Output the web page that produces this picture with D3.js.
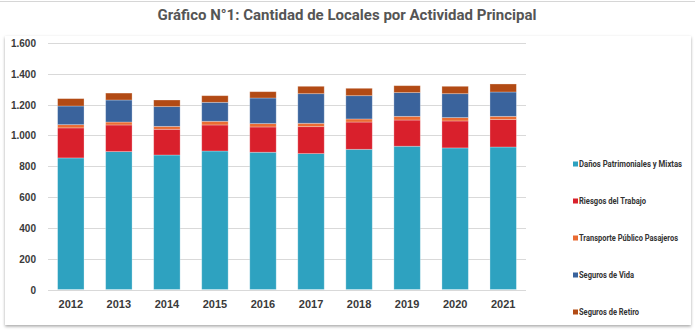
<!DOCTYPE html>
<html>
<head>
<meta charset="utf-8">
<script src="https://cdn.jsdelivr.net/npm/d3@7"></script>
<style>
  body { margin: 0; background: #fff; }
  svg { display: block; font-family: Roboto, "Noto Sans", sans-serif; }
  .axis text { font-weight: 700; fill: #3a3a3a; }
  .axis path { display: none; }
  .grid line { stroke: #d9d9d9; stroke-width: 1; }
</style>
</head>
<body>
<script>
//Years and series (number of premises by main activity)
var years = ["2012","2013","2014","2015","2016","2017","2018","2019","2020","2021"];
var seriesNames = ["Daños Patrimoniales y Mixtas","Riesgos del Trabajo","Transporte Público Pasajeros","Seguros de Vida","Seguros de Retiro"];
var danos      = [854, 895, 873, 899, 891, 882, 910, 930, 919, 925];
var riesgos    = [195, 173, 167, 169, 164, 175, 177, 170, 175, 178];
var transporte = [21, 19, 19, 24, 22, 22, 20, 24, 22, 21];
var vida       = [121, 143, 128, 123, 166, 192, 151, 154, 155, 158];
var retiro     = [48, 45, 43, 43, 41, 48, 48, 45, 48, 52];
var yTicks = [0, 200, 400, 600, 800, 1000, 1200, 1400, 1600];
var colors = ["#2ea2c0", "#d9202c", "#ea6b32", "#3a639c", "#b24a14"];

var width = 695, height = 330;
var plotLeft = 48, plotRight = 526, plotTop = 43, plotBottom = 289.5;

var svg = d3.select("body").append("svg")
    .attr("width", width)
    .attr("height", height);

//Card background with soft shadow
var defs = svg.append("defs");
var shadow = defs.append("filter").attr("id", "shadow")
    .attr("x", "-5%").attr("y", "-5%").attr("width", "110%").attr("height", "110%");
shadow.append("feDropShadow")
    .attr("dx", 0).attr("dy", 1.5)
    .attr("stdDeviation", 1.5)
    .attr("flood-color", "#000")
    .attr("flood-opacity", 0.35);

svg.append("line")
    .attr("x1", 0).attr("x2", width)
    .attr("y1", 1.5).attr("y2", 1.5)
    .attr("stroke", "#d6d6d6");

svg.append("rect")
    .attr("x", 5).attr("y", 36)
    .attr("width", 686).attr("height", 289)
    .attr("fill", "#fff")
    .attr("filter", "url(#shadow)");

//Title
svg.append("text")
    .attr("x", 347).attr("y", 19.5)
    .attr("text-anchor", "middle")
    .attr("font-size", 14)
    .attr("font-weight", 700)
    .attr("fill", "#555")
    .attr("textLength", 379)
    .attr("lengthAdjust", "spacingAndGlyphs")
    .text("Gráfico N°1: Cantidad de Locales por Actividad Principal");

//Scales
var x = d3.scaleBand()
    .domain(years)
    .range([plotLeft, plotRight])
    .paddingInner(0.45)
    .paddingOuter(0.2);

var y = d3.scaleLinear()
    .domain([0, 1600])
    .range([plotBottom, plotTop]);

//Gridlines
svg.append("g")
    .attr("class", "grid")
    .selectAll("line")
    .data(yTicks)
    .enter()
    .append("line")
    .attr("x1", plotLeft).attr("x2", plotRight)
    .attr("y1", function(d){ return Math.round(y(d)) + 0.5; })
    .attr("y2", function(d){ return Math.round(y(d)) + 0.5; });

//Stack the series
var table = years.map(function(yr, i){
    return { year: yr, s0: danos[i], s1: riesgos[i], s2: transporte[i], s3: vida[i], s4: retiro[i] };
});
var stack = d3.stack().keys(["s0","s1","s2","s3","s4"]);
var layers = stack(table);

var groups = svg.selectAll(".layer")
    .data(layers)
    .enter()
    .append("g")
    .attr("class", "layer")
    .attr("fill", function(d, i){ return colors[i]; });

groups.selectAll("rect")
    .data(function(d){ return d; })
    .enter()
    .append("rect")
    .attr("x", function(d){ return x(d.data.year); })
    .attr("width", x.bandwidth())
    .attr("y", function(d){ return y(d[1]); })
    .attr("height", function(d){ return y(d[0]) - y(d[1]); })
    .attr("stroke", "#ffffff")
    .attr("stroke-opacity", 0.35)
    .attr("stroke-width", 0.8);

//Axes
var yAxis = d3.axisLeft(y)
    .tickValues(yTicks)
    .tickSize(0)
    .tickPadding(0)
    .tickFormat(function(d){ return d3.format(",")(d).replace(",", "."); });

svg.append("g")
    .attr("class", "axis")
    .attr("transform", "translate(36,0)")
    .call(yAxis)
    .selectAll("text")
    .attr("font-size", 10)
    .attr("dy", "0.35em");

var xAxis = d3.axisBottom(x).tickSize(0).tickPadding(0);

svg.append("g")
    .attr("class", "axis")
    .attr("transform", "translate(0,300)")
    .call(xAxis)
    .selectAll("text")
    .attr("font-size", 11)
    .attr("dy", "0.71em");

//Legend
var legendWidths = [103, 67, 99, 55, 60];
var legend = svg.selectAll(".legend")
    .data(seriesNames)
    .enter()
    .append("g")
    .attr("class", "legend")
    .attr("transform", function(d, i){ return "translate(573," + (164 + i * 37) + ")"; });

legend.append("rect")
    .attr("x", 0).attr("y", -2.5)
    .attr("width", 5).attr("height", 5)
    .attr("fill", function(d, i){ return colors[i]; });

legend.append("text")
    .attr("x", 6)
    .attr("y", 3)
    .attr("font-size", 8.5)
    .attr("font-weight", 700)
    .attr("fill", "#333")
    .attr("textLength", function(d, i){ return legendWidths[i]; })
    .attr("lengthAdjust", "spacingAndGlyphs")
    .text(function(d){ return d; });
</script>
</body>
</html>
